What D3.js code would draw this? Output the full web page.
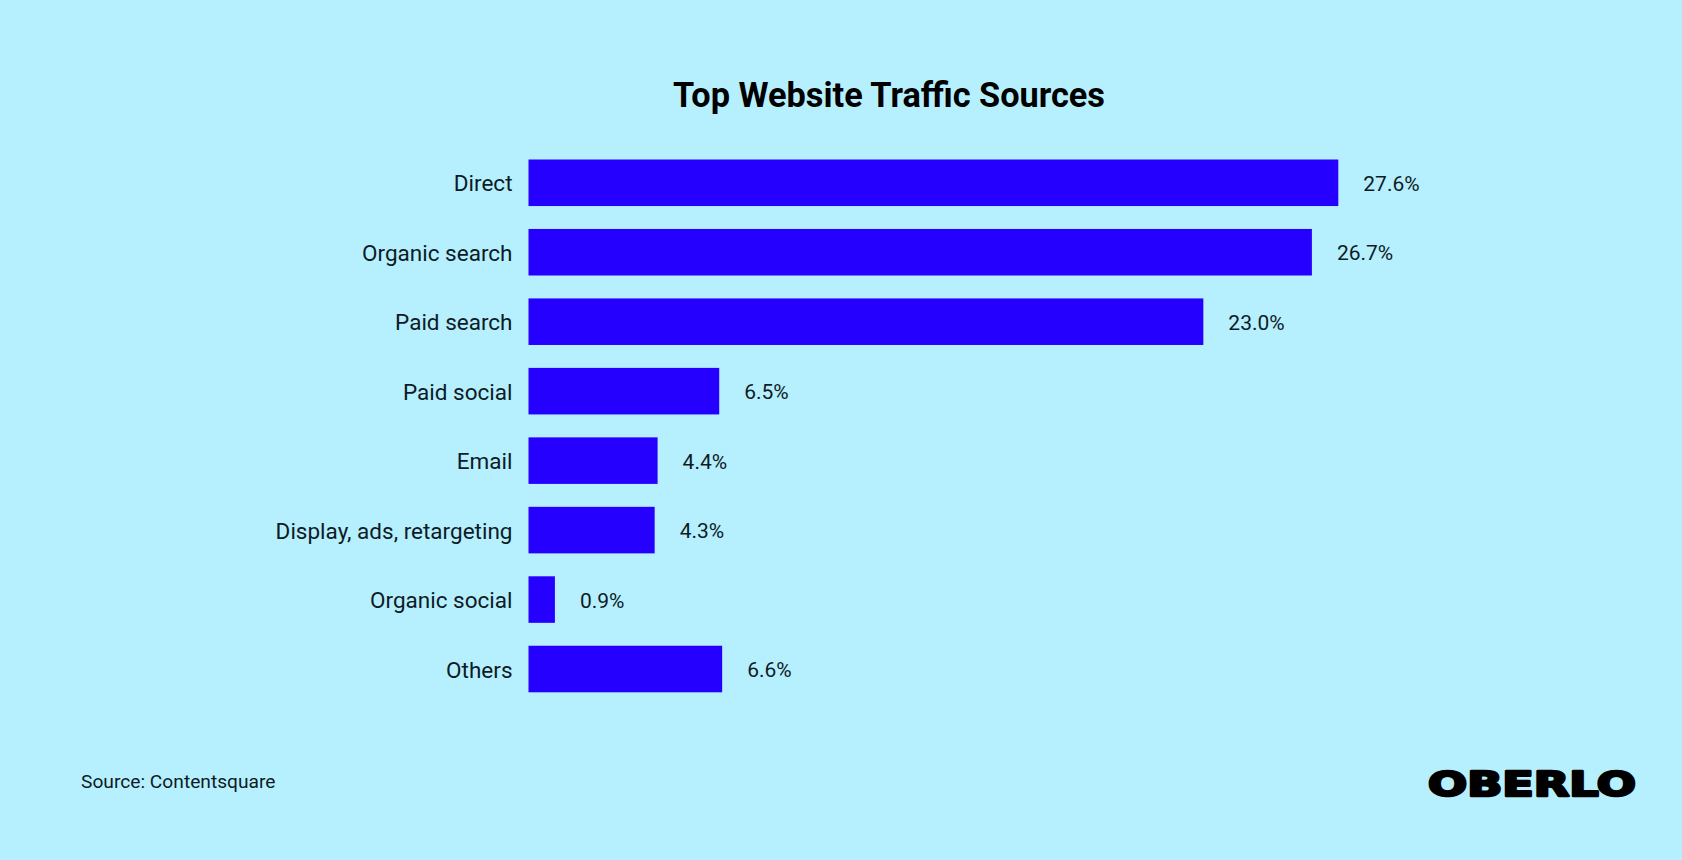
<!DOCTYPE html>
<html>
<head>
<meta charset="utf-8">
<script src="https://cdn.jsdelivr.net/npm/d3@7"></script>
<style>
  html, body { margin: 0; padding: 0; background: #b6f0fe; }
  svg { display: block; font-family: Roboto, "Noto Sans", sans-serif; }
</style>
</head>
<body>
<div id="chart"></div>
<script>
const width = 1682,
  height = 860,
  margin = { top: 159.5, bottom: 860 - 692.3, left: 528.5, right: 1682 - 1338.3 };

const categories = [
  "Direct",
  "Organic search",
  "Paid search",
  "Paid social",
  "Email",
  "Display, ads, retargeting",
  "Organic social",
  "Others",
];
const values = [27.6, 26.7, 23.0, 6.5, 4.4, 4.3, 0.9, 6.6];

const data = categories.map((c, i) => ({ category: c, value: values[i] }));

const svg = d3
  .select("#chart")
  .append("svg")
  .attr("width", width)
  .attr("height", height);

svg.append("rect").attr("width", width).attr("height", height).attr("fill", "#b6f0fe");

const xScale = d3
  .scaleLinear()
  .domain([0, d3.max(values)])
  .range([margin.left, width - margin.right]);

const yScale = d3
  .scaleBand()
  .domain(categories)
  .range([margin.top, height - margin.bottom])
  .paddingInner(0.33)
  .paddingOuter(0);

// title
svg
  .append("text")
  .attr("x", 889)
  .attr("y", 107)
  .attr("text-anchor", "middle")
  .attr("font-size", 34.3)
  .attr("font-weight", 700)
  .attr("fill", "#000")
  .text("Top Website Traffic Sources");

// category axis, no line or ticks
const yAxis = d3.axisLeft(yScale).tickSize(0).tickPadding(16);
svg
  .append("g")
  .attr("class", "y-axis")
  .attr("transform", `translate(${margin.left},0)`)
  .call(yAxis)
  .call(g => g.select(".domain").remove())
  .call(g =>
    g
      .selectAll("text")
      .attr("dy", "0.38em")
      .attr("font-family", "Roboto, sans-serif")
      .attr("font-size", 22.5)
      .attr("fill", "#0d1b26")
  );

// bars
svg
  .selectAll(".bar")
  .data(data)
  .join("rect")
  .attr("class", "bar")
  .attr("x", xScale(0))
  .attr("y", d => yScale(d.category))
  .attr("width", d => xScale(d.value) - xScale(0))
  .attr("height", yScale.bandwidth())
  .attr("fill", "#2600ff");

// value labels
svg
  .selectAll(".value")
  .data(data)
  .join("text")
  .attr("class", "value")
  .attr("x", d => xScale(d.value) + 25)
  .attr("y", d => yScale(d.category) + yScale.bandwidth() / 2)
  .attr("dy", "0.38em")
  .attr("font-size", 21)
  .attr("fill", "#0d1b26")
  .text(d => d.value.toFixed(1) + "%");

// source
svg
  .append("text")
  .attr("x", 81)
  .attr("y", 788)
  .attr("font-size", 19.2)
  .attr("fill", "#0d1b26")
  .text("Source: Contentsquare");

// logo
svg
  .append("text")
  .attr("x", 1428)
  .attr("y", 796)
  .attr("font-family", "'DejaVu Sans', sans-serif")
  .attr("font-size", 34)
  .attr("font-weight", 900)
  .attr("fill", "#000")
  .attr("stroke", "#000")
  .attr("stroke-width", 2.5)
  .attr("stroke-linejoin", "round")
  .attr("textLength", 208)
  .attr("lengthAdjust", "spacingAndGlyphs")
  .text("OBERLO");
</script>
</body>
</html>
